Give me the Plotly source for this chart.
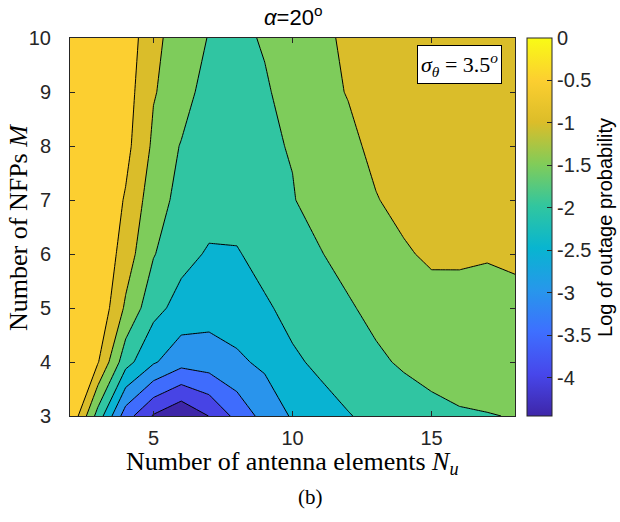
import plotly.graph_objects as go

# Grid: number of antenna elements (x) and number of NFPs (y)
n_u = list(range(2, 19))
m_nfp = list(range(3, 11))

# log10 outage probability, one row per M (3..10), columns N_u = 2..18
log_pout_m3 = [0.00, -1.70, -3.27, -4.05, -4.45, -3.99, -3.345, -2.82, -2.45, -2.25, -2.03, -1.85, -1.75, -1.64, -1.55, -1.52, -1.48]
log_pout_m4 = [-0.02, -0.46, -1.81, -2.44, -2.82, -2.75, -2.58, -2.41, -2.10, -1.88, -1.70, -1.58, -1.44, -1.33, -1.27, -1.23, -1.20]
log_pout_m5 = [-0.03, -0.08, -1.08, -1.84, -2.18, -2.30, -2.26, -2.09, -1.81, -1.70, -1.55, -1.38, -1.25, -1.17, -1.12, -1.10, -1.10]
log_pout_m6 = [-0.02, -0.01, -0.75, -1.47, -1.85, -2.05, -2.05, -1.77, -1.65, -1.52, -1.35, -1.22, -1.05, -0.93, -0.95, -0.98, -0.94]
log_pout_m7 = [-0.02, -0.02, -0.55, -1.28, -1.65, -1.80, -1.72, -1.62, -1.52, -1.35, -1.20, -1.02, -0.88, -0.80, -0.78, -0.77, -0.77]
log_pout_m8 = [-0.02, -0.05, -0.35, -1.09, -1.535, -1.62, -1.60, -1.55, -1.48, -1.30, -1.10, -0.90, -0.80, -0.75, -0.72, -0.70, -0.70]
log_pout_m9 = [-0.02, -0.03, -0.27, -0.97, -1.22, -1.78, -1.72, -1.55, -1.34, -1.12, -0.98, -0.85, -0.78, -0.72, -0.70, -0.68, -0.68]
log_pout_m10 = [-0.02, -0.02, -0.16, -0.90, -1.186, -1.527, -1.60, -1.46, -1.30, -1.10, -0.92, -0.80, -0.72, -0.70, -0.68, -0.67, -0.66]

z = [log_pout_m3, log_pout_m4, log_pout_m5, log_pout_m6,
     log_pout_m7, log_pout_m8, log_pout_m9, log_pout_m10]

# Contour levels and colour limits
level_start, level_end, level_step = -4.0, -0.5, 0.5
c_min, c_max = -4.45, 0.0
cbar_ticks = [-4, -3.5, -3, -2.5, -2, -1.5, -1, -0.5, 0]
cbar_ticktext = ["-4", "-3.5", "-3", "-2.5", "-2", "-1.5", "-1", "-0.5", "0"]

# Parula anchor colours
PARULA = [
    (0.2422, 0.1504, 0.6603), (0.2803, 0.2782, 0.9221), (0.2440, 0.4358, 0.9988),
    (0.1540, 0.5902, 0.9218), (0.0297, 0.7082, 0.8163), (0.1938, 0.7758, 0.6251),
    (0.5044, 0.7993, 0.3480), (0.8634, 0.7406, 0.1596), (0.9892, 0.8136, 0.1885),
    (0.9769, 0.9839, 0.0805),
]


def parula(f):
    f = min(max(f, 0.0), 1.0)
    pos = f * (len(PARULA) - 1)
    i = min(int(pos), len(PARULA) - 2)
    t = pos - i
    a, b = PARULA[i], PARULA[i + 1]
    r, g, bl = (a[k] + (b[k] - a[k]) * t for k in range(3))
    return f"rgb({round(r*255)},{round(g*255)},{round(bl*255)})"


# Filled bands take the colour of their lower level (below-lowest band -> c_min)
n_levels = int(round((level_end - level_start) / level_step)) + 1
band_lows = [c_min] + [level_start + i * level_step for i in range(n_levels)]
band_scale = [[i / n_levels, parula((lo - c_min) / (c_max - c_min))]
              for i, lo in enumerate(band_lows)]
continuous_scale = [[i / (len(PARULA) - 1), parula(i / (len(PARULA) - 1))]
                    for i in range(len(PARULA))]

fig = go.Figure()
fig.add_trace(go.Contour(
    x=n_u, y=m_nfp, z=z,
    autocontour=False,
    contours=dict(start=level_start, end=level_end, size=level_step,
                  coloring="fill", showlines=True),
    colorscale=band_scale,
    line=dict(color="black", width=1, smoothing=0),
    showscale=False,
    hoverinfo="skip",
))

# Continuous colour bar
fig.add_trace(go.Scatter(
    x=[n_u[0]], y=[m_nfp[0]], mode="markers",
    marker=dict(size=1, opacity=0, color=[c_min], colorscale=continuous_scale,
                cmin=c_min, cmax=c_max, showscale=True,
                colorbar=dict(
                    x=1.0277, xanchor="left", xpad=0, ypad=0,
                    y=0.5, yanchor="middle", len=1, lenmode="fraction",
                    thickness=25, thicknessmode="pixels",
                    outlinecolor="#262626", outlinewidth=1,
                    tickmode="array", tickvals=cbar_ticks, ticktext=cbar_ticktext,
                    ticks="inside", ticklen=5, tickcolor="#262626",
                    tickfont=dict(family="Liberation Sans", size=20, color="#262626"),
                )),
    hoverinfo="skip", showlegend=False,
))

axis_style = dict(
    showline=True, linecolor="#262626", linewidth=1, mirror="ticks",
    ticks="inside", ticklen=5, tickcolor="#262626", showgrid=False, zeroline=False,
    tickfont=dict(family="Liberation Sans", size=20, color="#262626"),
)

fig.update_xaxes(range=[2, 18], tickvals=[5, 10, 15], ticklabelstandoff=4, **axis_style)
fig.update_yaxes(range=[3, 10], tickvals=list(range(3, 11)), ticklabelstandoff=14, **axis_style)

serif = "Liberation Serif"
fig.update_layout(
    width=620, height=522,
    margin=dict(l=70, r=105, t=38, b=106),
    paper_bgcolor="white", plot_bgcolor="white",
    showlegend=False,
    annotations=[
        dict(text="<i>α</i>=20<sup>o</sup>", xref="paper", yref="paper",
             x=0.5, y=1.058, xanchor="center", yanchor="middle", showarrow=False,
             font=dict(family="Liberation Sans", size=22, color="black")),
        dict(text="Number of antenna elements <i>N</i><sub><i>u</i></sub>",
             xref="paper", yref="paper", x=0.5, y=-0.125,
             xanchor="center", yanchor="middle", showarrow=False,
             font=dict(family=serif, size=26, color="black")),
        dict(text="Number of NFPs <i>M</i>", xref="paper", yref="paper",
             x=-0.117, y=0.5, xanchor="center", yanchor="middle", textangle=-90,
             showarrow=False, font=dict(family=serif, size=26, color="black")),
        dict(text="Log of outage probability", xref="paper", yref="paper",
             x=1.2022, y=0.5, xanchor="center", yanchor="middle", textangle=-90,
             showarrow=False,
             font=dict(family="Liberation Sans", size=20, color="black")),
        dict(text="(b)", xref="paper", yref="paper", x=0.54, y=-0.2155,
             xanchor="center", yanchor="middle", showarrow=False,
             font=dict(family=serif, size=21, color="black")),
        dict(text="<i>σ</i><sub><i>θ</i></sub> = 3.5<sup><i>o</i></sup>",
             xref="paper", yref="paper", x=0.8742, y=0.93,
             xanchor="center", yanchor="middle", showarrow=False,
             bgcolor="white", bordercolor="black", borderwidth=1, borderpad=3,
             font=dict(family=serif, size=22, color="black")),
    ],
)

fig.write_html("out.html")
